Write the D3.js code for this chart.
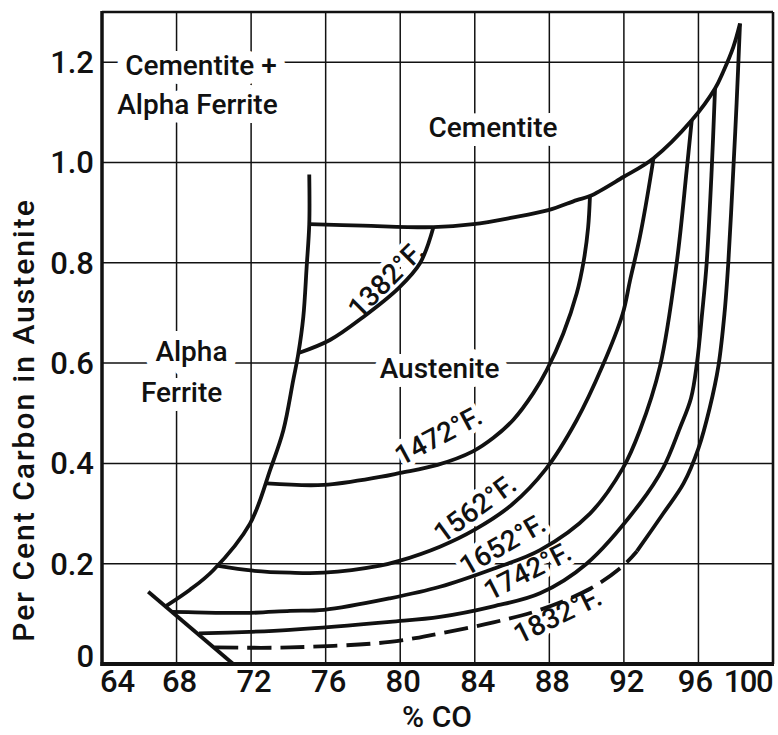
<!DOCTYPE html>
<html><head><meta charset="utf-8">
<script src="https://cdn.jsdelivr.net/npm/d3@7"></script>
<style>body{margin:0;background:#fff}</style>
</head><body><svg id="chart" width="778" height="735"></svg>
<script>
// ---------- data ----------
const xTicks = [64, 68, 72, 76, 80, 84, 88, 92, 96, 100];
const yTicks = [0, 0.2, 0.4, 0.6, 0.8, 1.0, 1.2];
const yTickLabels = ["0", "0.2", "0.4", "0.6", "0.8", "1.0", "1.2"];
const xGrid = [68, 72, 76, 80, 84, 88, 92, 96];
const yGrid = [0.2, 0.4, 0.6, 0.8, 1.0, 1.2];

// boundary of alpha ferrite (from the diagonal up to the top stub)
const alphaBoundary = [[67.45,0.116],[68.72,0.148],[69.97,0.187],[71.94,0.28],[73.05,0.39],[73.73,0.466],[74.26,0.566],[74.53,0.618],[74.8,0.692],[74.98,0.792],[75.12,0.877],[75.12,0.976]];
// boundary of cementite
const cementiteBoundary = [[75.12,0.877],[78.0,0.874],[81.78,0.871],[83.92,0.877],[86.0,0.89],[87.94,0.905],[89.47,0.925],[90.18,0.933],[91.97,0.971],[93.58,1.008],[95.64,1.084],[96.89,1.1475],[97.33,1.181],[97.87,1.23],[98.23,1.277]];
// short diagonal line at the lower left
const diagonal = [[66.48,0.144],[71.04,0.0]];

// isotherms
const t1382 = [[74.55,0.62],[76.23,0.646],[78.02,0.692],[79.9,0.749],[81.06,0.799],[81.78,0.871]];
const t1472 = [[72.84,0.36],[75.9,0.357],[78.92,0.373],[80.0,0.381],[82.0,0.397],[83.9,0.424],[85.0,0.451],[86.07,0.487],[87.14,0.54],[87.86,0.586],[88.75,0.659],[89.47,0.739],[89.85,0.805],[90.08,0.87],[90.18,0.933]];
const t1562 = [[70.15,0.196],[72.1,0.186],[74.1,0.182],[75.9,0.182],[78.92,0.196],[79.9,0.205],[82.13,0.234],[84.0,0.268],[86.0,0.318],[87.8,0.388],[89.45,0.485],[90.85,0.594],[91.94,0.699],[92.33,0.765],[92.86,0.852],[93.49,0.985],[93.58,1.008]];
const t1652 = [[67.76,0.104],[69.0,0.103],[71.94,0.102],[74.09,0.106],[75.91,0.108],[79.45,0.131],[82.13,0.154],[85.0,0.19],[87.5,0.227],[90.18,0.30],[91.94,0.39],[92.86,0.466],[93.94,0.594],[94.83,0.799],[95.37,0.985],[95.64,1.084]];
const t1742 = [[69.2,0.061],[71.9,0.064],[74.09,0.068],[79.45,0.084],[82.13,0.094],[85.0,0.115],[87.5,0.141],[90.0,0.2],[92.86,0.32],[94.11,0.391],[95.0,0.47],[95.6,0.53],[95.92,0.6],[96.2,0.7],[96.44,0.799],[96.71,0.985],[96.89,1.1475]];
const t1832 = [[70.03,0.033],[74.09,0.033],[79.45,0.044],[82.13,0.061],[85.0,0.083],[87.5,0.108],[90.18,0.15],[91.9,0.194],[92.7,0.225],[94.11,0.30],[95.2,0.36],[96.0,0.43],[96.6,0.51],[97.07,0.594],[97.4,0.7],[97.6,0.799],[97.87,0.985],[98.05,1.12],[98.23,1.277]];
const t1832DashedUntil = 92.7;

const isotherms = [t1382, t1472, t1562, t1652, t1742];

// text
const regionLabels = ["Cementite +", "Alpha Ferrite", "Cementite", "Alpha", "Ferrite", "Austenite"];
const tempLabels = ["1382°F.", "1472°F.", "1562°F.", "1652°F.", "1742°F.", "1832°F."];
const xTitle = "% CO";
const yTitle = "Per Cent Carbon in Austenite";

// ---------- layout ----------
const W = 778, H = 735;
const L = 102, R = 773, T = 12, B = 664;
const FONT = "Roboto, 'Liberation Sans', Arial, sans-serif";

// anchors (data coordinates) for the labels
const regionPos = [[69.31,1.174],[69.12,1.097],[84.98,1.051],[68.80,0.604],[68.27,0.522],[82.11,0.570]];
const tempPos = [[79.24,0.766,-45],[82.05,0.455,-28],[84.01,0.310,-36],[85.49,0.238,-30],[86.83,0.185,-27],[88.44,0.097,-26]];

const svg = d3.select("#chart");
svg.append("rect").attr("width", W).attr("height", H).attr("fill", "#fff");

const x = d3.scaleLinear().domain([64, 100]).range([L, R]);
const y = d3.scaleLinear().domain([0, 1.3]).range([B, T]);

svg.append("clipPath").attr("id", "plot")
  .append("rect").attr("x", L).attr("y", T).attr("width", R - L).attr("height", B - T);

// grid
const grid = svg.append("g").attr("clip-path", "url(#plot)").attr("stroke", "#111").attr("stroke-width", 1.5);
grid.selectAll("line.v").data(xGrid).join("line").attr("class", "v")
  .attr("x1", d => x(d)).attr("x2", d => x(d)).attr("y1", T).attr("y2", B);
grid.selectAll("line.h").data(yGrid).join("line").attr("class", "h")
  .attr("x1", L).attr("x2", R).attr("y1", d => y(d)).attr("y2", d => y(d));

// label halos (break the grid like the original)
function regionText(g, halo) {
  g.selectAll("text").data(regionLabels).join("text")
    .attr("x", (d, i) => x(regionPos[i][0]))
    .attr("y", (d, i) => y(regionPos[i][1]))
    .attr("text-anchor", "middle")
    .attr("font-family", FONT).attr("font-weight", 500).attr("font-size", 28)
    .attr("fill", halo ? "#fff" : "#111")
    .attr("stroke", halo ? "#fff" : "none")
    .attr("stroke-width", halo ? 18 : 0)
    .attr("stroke-linejoin", "round")
    .text(d => d);
}
function tempText(g, halo) {
  g.selectAll("text").data(tempLabels).join("text")
    .attr("transform", (d, i) => `translate(${x(tempPos[i][0])},${y(tempPos[i][1])}) rotate(${tempPos[i][2]})`)
    .attr("text-anchor", "middle").attr("dominant-baseline", "central")
    .attr("font-family", FONT).attr("font-weight", 500).attr("font-size", 28)
    .attr("fill", halo ? "#fff" : "#111")
    .attr("stroke", halo ? "#fff" : "none")
    .attr("stroke-width", halo ? 10 : 0)
    .attr("stroke-linejoin", "round")
    .text(d => d);
}
regionText(svg.append("g"), true);
tempText(svg.append("g"), true);

// curves
const line = d3.line().x(d => x(d[0])).y(d => y(d[1])).curve(d3.curveCatmullRom.alpha(0.5));
const curves = svg.append("g").attr("fill", "none").attr("stroke", "#111")
  .attr("stroke-width", 3.8).attr("stroke-linecap", "butt").attr("stroke-linejoin", "round");
curves.append("path").attr("d", line(alphaBoundary));
curves.append("path").attr("d", line(cementiteBoundary));
curves.append("path").attr("d", d3.line().x(d => x(d[0])).y(d => y(d[1]))(diagonal));
isotherms.forEach(s => curves.append("path").attr("d", line(s)));
curves.append("path").attr("d", line(t1832.filter(d => d[0] <= t1832DashedUntil)))
  .attr("stroke-dasharray", "24,9");
curves.append("path").attr("d", line(t1832.filter(d => d[0] >= t1832DashedUntil)));

// frame
const frame = svg.append("g").attr("stroke", "#111").attr("fill", "none");
frame.append("line").attr("x1", L).attr("x2", L).attr("y1", T - 1).attr("y2", B + 2).attr("stroke-width", 3.5);
frame.append("line").attr("x1", L - 1.5).attr("x2", R + 1).attr("y1", B).attr("y2", B).attr("stroke-width", 4);
frame.append("line").attr("x1", L).attr("x2", R).attr("y1", T).attr("y2", T).attr("stroke-width", 2.6);
frame.append("line").attr("x1", R).attr("x2", R).attr("y1", T).attr("y2", B).attr("stroke-width", 2.6);

// tick labels
const nX = xTicks.length;
svg.append("g").selectAll("text").data(xTicks).join("text")
  .attr("x", (d, i) => i === 0 ? x(d) - 2 : (i === nX - 1 ? x(d) - 1 : (i === nX - 2 ? x(d) - 3 : x(d) + 3)))
  .attr("y", 692)
  .attr("text-anchor", (d, i) => i === 0 ? "start" : (i === nX - 1 ? "end" : "middle"))
  .attr("letter-spacing", (d, i) => i === nX - 1 ? -1.5 : 0)
  .attr("font-family", FONT).attr("font-weight", 500).attr("font-size", 31).attr("fill", "#111")
  .text(d => d);
svg.append("g").selectAll("text").data(yTicks).join("text")
  .attr("x", 94)
  .attr("y", d => d === 0 ? y(d) + 3 : y(d) + 11)
  .attr("text-anchor", "end")
  .attr("font-family", FONT).attr("font-weight", 500).attr("font-size", 31).attr("fill", "#111")
  .text((d, i) => yTickLabels[i]);

// axis titles
svg.append("text").attr("x", 437).attr("y", 727).attr("text-anchor", "middle")
  .attr("font-family", FONT).attr("font-weight", 500).attr("font-size", 30).attr("fill", "#111")
  .text(xTitle);
svg.append("text").attr("transform", "translate(34,420) rotate(-90)").attr("text-anchor", "middle")
  .attr("font-family", FONT).attr("font-weight", 500).attr("font-size", 30)
  .attr("letter-spacing", 2).attr("fill", "#111")
  .text(yTitle);

// label fills
regionText(svg.append("g"), false);
tempText(svg.append("g"), false);
</script></body></html>
